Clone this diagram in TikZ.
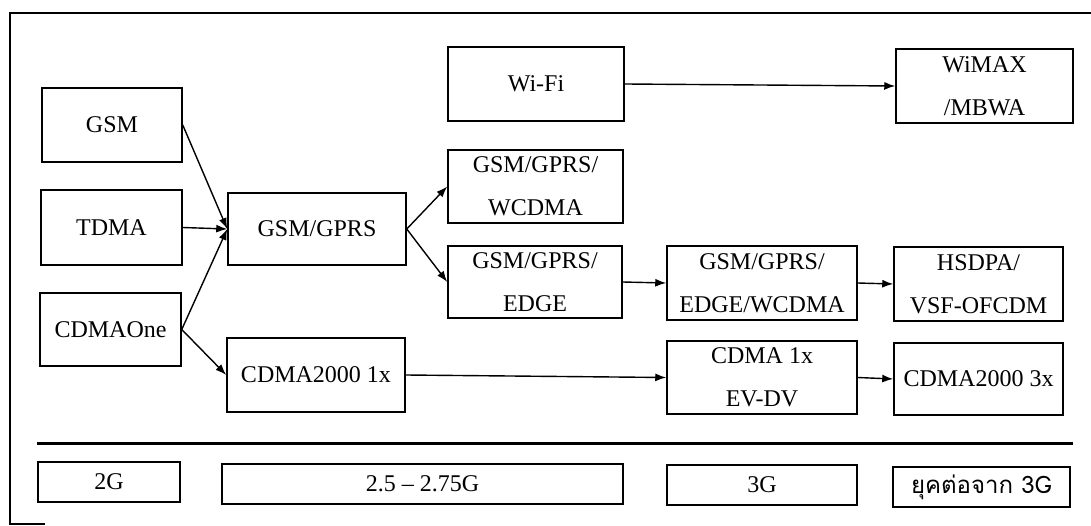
\documentclass[tikz,border=0pt]{standalone}
\usepackage{fontspec}
\setmainfont{Liberation Serif}
\newfontfamily\thaifont[Script=Thai]{Loma}
\usetikzlibrary{arrows.meta}

\begin{document}
\begin{tikzpicture}[x=1pt,y=-1pt,
        gen/.style={draw,line width=1.5pt,inner sep=0pt,align=center,
            font=\fontsize{24}{43}\selectfont},
        era/.style={gen,minimum height=40pt},
        link/.style={line width=1.4pt,-{Latex[length=11pt,width=8pt]}}]

    \useasboundingbox (0,0) rectangle (1091,526);

    % outer frame
    \draw[line width=2.4pt] (45,524) -- (10,524) -- (10,13) -- (1091,13);

    % 2G
    \node[gen,minimum width=140pt,minimum height=74pt] (gsm) at (112,125) {GSM};
    \node[gen,minimum width=141pt,minimum height=75pt] (tdma) at (111.5,227.5) {TDMA};
    \node[gen,minimum width=141pt,minimum height=73pt] (cdmaone) at (110.5,329.5) {CDMAOne};

    % 2.5 - 2.75G
    \node[gen,minimum width=178pt,minimum height=72pt] (gprs) at (317,229) {GSM/GPRS};
    \node[gen,minimum width=178pt,minimum height=74pt] (cdma1x) at (316,375) {CDMA2000 1x};
    \node[gen,minimum width=176pt,minimum height=74pt] (wifi) at (536,84) {Wi-Fi};
    \node[gen,minimum width=175pt,minimum height=73pt] (wcdma) at (535.5,186.5) {GSM/GPRS/\\WCDMA};
    \node[gen,minimum width=174pt,minimum height=72pt] (edge) at (535,282) {GSM/GPRS/\\EDGE};

    % 3G
    \node[gen,minimum width=190pt,minimum height=74pt] (edgewcdma) at (762,283) {GSM/GPRS/\\EDGE/WCDMA};
    \node[gen,minimum width=190pt,minimum height=73pt] (evdv) at (762,377.5) {CDMA 1x\\EV-DV};

    % beyond 3G
    \node[gen,minimum width=177pt,minimum height=74pt] (wimax) at (984.5,86) {WiMAX\\/MBWA};
    \node[gen,minimum width=169pt,minimum height=74pt] (hsdpa) at (978.5,284) {HSDPA/\\VSF-OFCDM};
    \node[gen,minimum width=169pt,minimum height=72pt] (cdma3x) at (978.5,379) {CDMA2000 3x};

    \draw[link] (gsm.east) -- (gprs.west);
    \draw[link] (tdma.east) -- (gprs.west);
    \draw[link] (cdmaone.east) -- (gprs.west);
    \draw[link] (cdmaone.east) -- (cdma1x.west);
    \draw[link] (gprs.east) -- (wcdma.west);
    \draw[link] (gprs.east) -- (edge.west);
    \draw[link] (edge.east) -- (edgewcdma.west);
    \draw[link] (edgewcdma.east) -- (hsdpa.west);
    \draw[link] (wifi.east) -- (wimax.west);
    \draw[link] (cdma1x.east) -- (evdv.west);
    \draw[link] (evdv.east) -- (cdma3x.west);

    % generations
    \draw[line width=3pt] (37,443) -- (1073,443);
    \node[era,minimum width=142pt] (g2) at (109,482) {2G};
    \node[era,minimum width=401pt] (g25) at (422.5,484) {2.5 -- 2.75G};
    \node[era,minimum width=190pt] (g3) at (762,485) {3G};
    \node[era,minimum width=177pt] (g4) at (981.5,487) {\thaifont ยุคต่อจาก 3G};
\end{tikzpicture}
\end{document}
